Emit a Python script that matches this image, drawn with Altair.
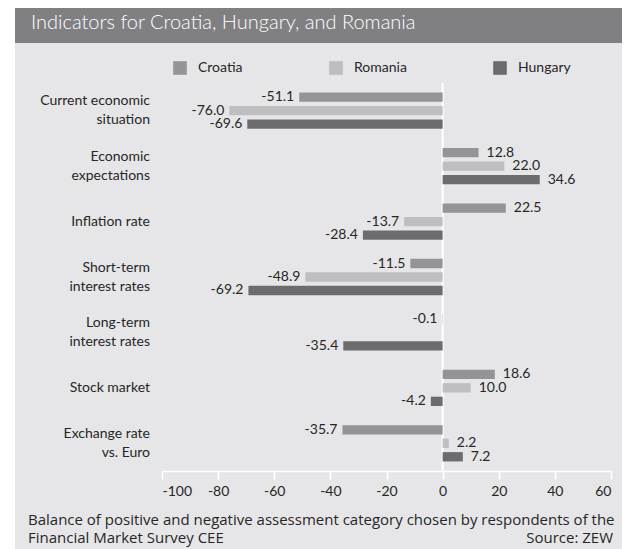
import altair as alt
import pandas as pd

categories = [
    "Current economic|situation",
    "Economic|expectations",
    "Inflation rate",
    "Short-term|interest rates",
    "Long-term|interest rates",
    "Stock market",
    "Exchange rate|vs. Euro",
]
countries = ["Croatia", "Romania", "Hungary"]
croatia = [-51.1, 12.8, 22.5, -11.5, -0.1, 18.6, -35.7]
romania = [-76.0, 22.0, -13.7, -48.9, None, 10.0, 2.2]
hungary = [-69.6, 34.6, -28.4, -69.2, -35.4, -4.2, 7.2]
x_ticks = [-100, -80, -60, -40, -20, 0, 20, 40, 60]

title_text = "Indicators for Croatia, Hungary, and Romania"
note_line1 = "Balance of positive and negative assessment category chosen by respondents of the"
note_line2 = "Financial Market Survey CEE"
source_text = "Source: ZEW"

colors = ["#949497", "#bebec0", "#6c6c6e"]

rows = []
for name, series in zip(countries, [croatia, romania, hungary]):
    for cat, v in zip(categories, series):
        if v is not None:
            rows.append({"category": cat, "country": name, "value": v})
df = pd.DataFrame(rows)

cat_rows = []
for cat in categories:
    parts = cat.split("|")
    cat_rows.append({"category": cat, "line1": parts[0],
                     "line2": parts[1] if len(parts) > 1 else ""})
cat_df = pd.DataFrame(cat_rows)

FONT = "Lato"
NOTE_FONT = "Open Sans"
TXT = "#262626"
W, H = 449, 388
PL, PT, PR, PB = 154, 75, 11, 78

one = pd.DataFrame({"k": [0]})

frame = alt.Chart(one).mark_rect(color="#e6e6e8").encode(
    x=alt.value(-147), x2=alt.value(W + PR), y=alt.value(-40), y2=alt.value(H + PB)
)
band = alt.Chart(one).mark_rect(color="#808083").encode(
    x=alt.value(-147), x2=alt.value(W + PR), y=alt.value(-PT), y2=alt.value(-40)
)
title = alt.Chart(one).mark_text(
    text=title_text, align="left", baseline="alphabetic", font=FONT,
    fontSize=20, color="white", fontWeight=300
).encode(x=alt.value(-131), y=alt.value(-54))

y_enc = alt.Y(
    "category:N", sort=categories,
    scale=alt.Scale(paddingInner=0.345, paddingOuter=0.1725),
    axis=None,
)
yoff = alt.YOffset("country:N", sort=countries,
                   scale=alt.Scale(paddingInner=0.31, paddingOuter=0))

zero = alt.Chart(one).mark_rule(color="white", strokeWidth=2).encode(x=alt.datum(0))

bars = alt.Chart(df).mark_bar().encode(
    x=alt.X(
        "value:Q",
        scale=alt.Scale(domain=[-100, 60], nice=False, zero=True),
        axis=alt.Axis(
            title=None, values=x_ticks, grid=False, domainColor="white",
            domainWidth=1.5, tickColor="white", tickWidth=1.5, tickSize=8,
            labelFont=FONT, labelFontSize=14, labelColor=TXT, labelPadding=5,
            labelExpr="toString(datum.value)", zindex=1,
        ),
    ),
    x2=alt.datum(0),
    y=y_enc,
    yOffset=yoff,
    color=alt.Color(
        "country:N", sort=countries,
        scale=alt.Scale(domain=countries, range=colors),
        legend=alt.Legend(
            title=None, orient="none", legendX=11, legendY=-22, direction="horizontal",
            symbolType="square", symbolSize=185, symbolStrokeWidth=0,
            labelFont=FONT, labelFontSize=14, labelColor=TXT,
            labelOffset=11, columnPadding=86, padding=0,
        ),
    ),
)

label_calc = "replace(format(datum.value, '.1f'), '\u2212', '-')"

pos_labels = alt.Chart(df).transform_filter("datum.value >= 0").transform_calculate(
    lbl=label_calc
).mark_text(
    align="left", baseline="middle", dx=8, font=FONT, fontSize=14, color=TXT
).encode(x="value:Q", y=y_enc, yOffset=yoff, text="lbl:N")
neg_labels = alt.Chart(df).transform_filter("datum.value < 0").transform_calculate(
    lbl=label_calc
).mark_text(
    align="right", baseline="middle", dx=-5, font=FONT, fontSize=14, color=TXT
).encode(x="value:Q", y=y_enc, yOffset=yoff, text="lbl:N")

cat_style = dict(align="right", baseline="middle", font=FONT, fontSize=14, color=TXT)
cat_single = alt.Chart(cat_df).transform_filter("datum.line2 == ''").mark_text(
    **cat_style
).encode(x=alt.value(-12), y=y_enc, text="line1:N")
cat_top = alt.Chart(cat_df).transform_filter("datum.line2 != ''").mark_text(
    dy=-9.5, **cat_style
).encode(x=alt.value(-12), y=y_enc, text="line1:N")
cat_bottom = alt.Chart(cat_df).transform_filter("datum.line2 != ''").mark_text(
    dy=9.5, **cat_style
).encode(x=alt.value(-12), y=y_enc, text="line2:N")

note_style = dict(baseline="alphabetic", font=NOTE_FONT, fontSize=15, color=TXT)
note1 = alt.Chart(one).mark_text(text=note_line1, align="left", **note_style).encode(
    x=alt.value(-134), y=alt.value(441.5))
note2 = alt.Chart(one).mark_text(text=note_line2, align="left", **note_style).encode(
    x=alt.value(-134), y=alt.value(460))
source = alt.Chart(one).mark_text(text=source_text, align="right", **note_style).encode(
    x=alt.value(451), y=alt.value(460))

chart = alt.layer(
    frame, band, title, zero, bars, pos_labels, neg_labels,
    cat_single, cat_top, cat_bottom, note1, note2, source
).properties(
    width=W, height=H,
    autosize=alt.AutoSizeParams(type="none"),
    padding={"left": PL, "top": PT, "right": PR, "bottom": PB},
    background="white",
).configure_view(stroke=None)

chart.save("out.html", embed_options={"renderer": "svg", "actions": False})
